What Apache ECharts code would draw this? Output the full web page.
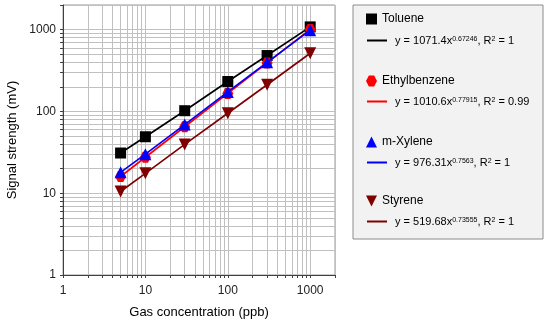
<!DOCTYPE html>
<html>
<head>
<meta charset="utf-8">
<script src="https://cdn.jsdelivr.net/npm/echarts@6/dist/echarts.min.js"></script>
<style>
html,body{margin:0;padding:0;background:#fff;}
#c{width:550px;height:324px;}
</style>
</head>
<body>
<div id="c"></div>
<script>
const concentrations = [5, 10, 30, 100, 300, 1000];
const toluene = [31, 49, 102, 232, 482, 1080];
const ethylbenzene = [16, 27.5, 65, 166, 392, 1005];
const mXylene = [18, 30, 69, 173, 398, 985];
const styrene = [10.5, 17.5, 39.5, 95, 212, 515];
const seriesNames = ['Toluene', 'Ethylbenzene', 'm-Xylene', 'Styrene'];
const fitCoef = ['1071.4', '1010.6', '976.31', '519.68'];
const fitExp = ['0.67246', '0.77915', '0.7563', '0.73555'];
const fitR2 = ['1', '0.99', '1', '1'];
const majorTicks = [1, 10, 100, 1000];
const minorTicks = [1,2,3,4,5,6,7,8,9,10,20,30,40,50,60,70,80,90,100,200,300,400,500,600,700,800,900,1000,2000];

const colors = ['#000000', '#ff0000', '#0000ff', '#7f0000'];
const hexagon = 'path://M2.6 0 L7.4 0 L10 5 L7.4 10 L2.6 10 L0 5 Z';
const symbols = ['rect', hexagon, 'triangle', 'path://M0 0 L10 0 L5 10 Z'];
const symbolSizes = [11, 11, 12, 12];
const allData = [toluene, ethylbenzene, mXylene, styrene];

const font = 'Arial, "Liberation Sans", sans-serif';
const chart = echarts.init(document.getElementById('c'), null, {renderer: 'canvas'});

const series = [];
const eqNames = [];
allData.forEach((vals, i) => {
  const pts = concentrations.map((x, j) => [x, vals[j]]);
  const eq = 'eq' + i;
  eqNames.push(eq);
  series.push({
    name: eq, type: 'line', data: pts, showSymbol: false, symbol: 'none',
    lineStyle: {color: colors[i], width: 1.7}, itemStyle: {color: colors[i]},
    z: 2 + i * 2, silent: true, animation: false
  });
  series.push({
    name: seriesNames[i], type: 'scatter', data: pts, symbol: symbols[i],
    symbolSize: symbolSizes[i], itemStyle: {color: colors[i], opacity: 1},
    z: 3 + i * 2, silent: true, animation: false
  });
});

const legendTops = [[8, 30], [70, 91], [131, 152], [190, 211]];
const legends = [];
seriesNames.forEach((n, i) => {
  legends.push({
    data: [{name: n, icon: symbols[i]}], left: 361, top: legendTops[i][0],
    itemWidth: 11, itemHeight: 11, selectedMode: false,
    textStyle: {fontFamily: font, fontSize: 12, color: '#000'}
  });
  legends.push({
    data: [{name: eqNames[i], icon: 'path://M0 0 L10 0 L10 1 L0 1 Z'}], left: 362, top: legendTops[i][1],
    itemWidth: 26, itemHeight: 2, selectedMode: false,
    formatter: () => '{a|y = ' + fitCoef[i] + 'x}{s|' + fitExp[i] + '}{a|, R}{s|2}{a| = ' + fitR2[i] + '}',
    textStyle: {fontFamily: font, fontSize: 11, color: '#000',
      rich: {a: {fontFamily: font, fontSize: 11, color: '#000'},
             s: {fontFamily: font, fontSize: 7, color: '#000', verticalAlign: 'bottom', lineHeight: 17, padding: [0,0,6,0]}}}
  });
});

chart.setOption({
  animation: false,
  backgroundColor: '#fff',
  grid: {left: 63, top: 5, width: 272, height: 275, show: true, borderColor: '#9a9a9a', borderWidth: 1, containLabel: false},
  graphic: [{
    type: 'rect', shape: {x: 353, y: 5, width: 190, height: 234},
    style: {fill: '#f2f2f2', stroke: '#8c8c8c', lineWidth: 1}, z: -1, silent: true
  }],
  legend: legends,
  xAxis: {
    type: 'log', logBase: 10, min: 1, max: 2000,
    name: 'Gas concentration (ppb)', nameLocation: 'middle', nameGap: 31,
    nameTextStyle: {fontFamily: font, fontSize: 13, color: '#000'},
    axisLine: {show: true, onZero: false, lineStyle: {color: '#404040', width: 1}},
    axisTick: {show: true, inside: false, length: 3, customValues: minorTicks, lineStyle: {color: '#404040'}},
    axisLabel: {customValues: majorTicks, fontFamily: font, fontSize: 12, color: '#222', margin: 10,
      formatter: v => String(Math.round(v))},
    splitLine: {show: true, lineStyle: {color: '#c0c0c0', width: 1}},
    minorSplitLine: {show: false}
  },
  yAxis: {
    type: 'log', logBase: 10, min: 1, max: 2000,
    name: 'Signal strength (mV)', nameLocation: 'middle', nameGap: 44, nameRotate: 90,
    nameTextStyle: {fontFamily: font, fontSize: 13, color: '#000'},
    axisLine: {show: true, onZero: false, lineStyle: {color: '#404040', width: 1}},
    axisTick: {show: true, inside: false, length: 3, customValues: minorTicks, lineStyle: {color: '#404040'}},
    axisLabel: {customValues: majorTicks, fontFamily: font, fontSize: 12, color: '#222', margin: 7,
      formatter: v => String(Math.round(v))},
    splitLine: {show: true, lineStyle: {color: '#c0c0c0', width: 1}}
  },
  series: series
});
</script>
</body>
</html>
